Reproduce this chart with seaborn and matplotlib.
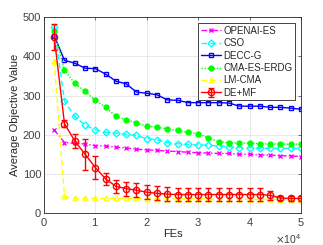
import numpy as np
import pandas as pd
import matplotlib
matplotlib.use("Agg")
import matplotlib.pyplot as plt
import matplotlib.ticker as mticker
import seaborn as sns

# Data
fes = [2000 * i for i in range(1, 26)]

openai_es = [212, 180, 178, 176, 172, 171, 168, 166, 163, 161, 160, 158, 157,
             155, 154, 153, 152, 152, 150, 150, 148, 148, 146, 146, 144]
cso = [475, 286, 247, 224, 213, 206, 204, 201, 198, 190, 187, 180, 177,
       175, 174, 173, 171, 169, 167, 167, 165, 165, 165, 165, 165]
decc_g = [453, 390, 383, 370, 369, 355, 337, 330, 309, 306, 302, 289, 288,
          282, 282, 282, 282, 281, 273, 273, 273, 270, 270, 268, 265]
cma_es_erdg = [465, 365, 331, 311, 288, 270, 247, 238, 230, 222, 219, 215, 211,
               206, 202, 192, 182, 179, 179, 178, 177, 176, 176, 176, 176]
lm_cma = [388, 42, 37, 37, 37, 37, 37, 37, 37, 36, 36, 36, 36,
          36, 36, 36, 35, 35, 35, 35, 35, 35, 34, 34, 34]
de_mf = [450, 228, 184, 150, 116, 87, 68, 62, 58, 53, 50, 48, 47,
         47, 47, 47, 47, 47, 47, 47, 47, 45, 38, 37, 37]
de_mf_err = [34, 9, 19, 40, 29, 15, 16, 18, 18, 18, 18, 17, 16,
             16, 16, 16, 16, 16, 16, 16, 16, 12, 6, 6, 6]

series = [
    ("OPENAI-ES", openai_es, "#FF00FF", (0, (4, 1.5, 1, 1.5)), "x", True),
    ("CSO", cso, "#00FFFF", (0, (4, 2.5)), "D", False),
    ("DECC-G", decc_g, "#0000FF", "-", "s", False),
    ("CMA-ES-ERDG", cma_es_erdg, "#00FF00", (0, (1, 1.2)), "o", True),
    ("LM-CMA", lm_cma, "#FFFF00", (0, (4, 2.5)), "^", False),
]

sns.set_style("whitegrid")
plt.rcParams["font.family"] = ["Liberation Sans", "DejaVu Sans"]

fig, ax = plt.subplots(figsize=(3.23, 2.45), dpi=100)
fig.subplots_adjust(left=0.136, right=0.932, top=0.929, bottom=0.131)

for name, vals, color, ls, mk, filled in series:
    df = pd.DataFrame({"FEs": fes, "val": vals})
    sns.lineplot(data=df, x="FEs", y="val", ax=ax, color=color, linewidth=1.0,
                 linestyle=ls, marker=mk, markersize=3.5 if mk != "x" else 3,
                 markerfacecolor=color if filled else "none",
                 markeredgecolor=color, markeredgewidth=1.0, label=name)

# DE+MF with error bars
df = pd.DataFrame({"FEs": fes, "val": de_mf})
sns.lineplot(data=df, x="FEs", y="val", ax=ax, color="#FF0000", linewidth=1.0,
             marker="o", markersize=4.5, markerfacecolor="none",
             markeredgecolor="#FF0000", markeredgewidth=1.0, label="DE+MF",
             zorder=4)
eb = ax.errorbar(fes, de_mf, yerr=de_mf_err, fmt="none", ecolor="#FF0000",
                 elinewidth=1.0, capsize=2, capthick=1.0, zorder=3)

ax.set_xlim(0, 50000)
ax.set_ylim(0, 500)
ax.set_yticks([0, 100, 200, 300, 400, 500])
ax.set_xticks([0, 10000, 20000, 30000, 40000, 50000])
fmt = mticker.ScalarFormatter(useMathText=True)
fmt.set_powerlimits((0, 0))
ax.xaxis.set_major_formatter(fmt)
ax.xaxis.get_offset_text().set_fontsize(7.5)
ax.xaxis.get_offset_text().set_color("#404040")

ax.set_xlabel("FEs", fontsize=8, color="#262626", labelpad=1)
ax.set_ylabel("Average Objective Value", fontsize=8, color="#262626", labelpad=2)
ax.tick_params(axis="both", labelsize=8, colors="#404040", direction="in",
               length=2, pad=2, width=0.5, top=True, right=True)
ax.grid(True, color="#E5E5E5", linewidth=0.6)
for sp in ax.spines.values():
    sp.set_color("#262626")
    sp.set_linewidth(0.6)

handles, labels = ax.get_legend_handles_labels()
handles[-1] = (handles[-1], eb)
leg = ax.legend(handles, labels, loc="upper right", fontsize=7, frameon=True,
                fancybox=False, edgecolor="#262626", framealpha=1,
                handlelength=2.1, handletextpad=0.25, labelspacing=0.25,
                borderpad=0.25, borderaxespad=0.6)
leg.get_frame().set_linewidth(0.6)

fig.savefig("out.png", dpi=100)
